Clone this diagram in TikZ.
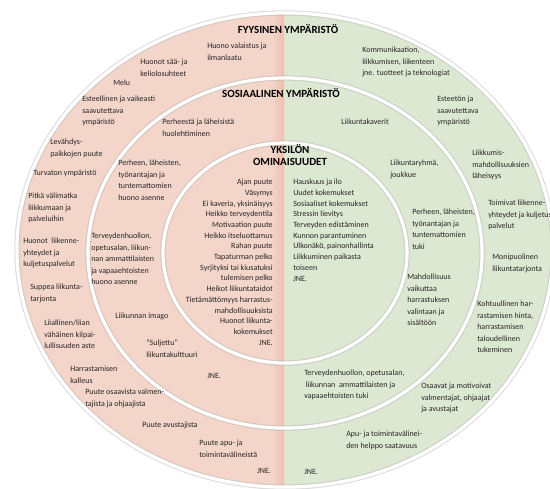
\documentclass[tikz,border=0pt]{standalone}
\usepackage{fontspec}
\setmainfont{Carlito}
\usepackage{xcolor}
\usepackage{tikz}
\usetikzlibrary{positioning}

\definecolor{pinkbg}{RGB}{243,213,201}
\definecolor{pinkdeep}{RGB}{238,190,175}
\definecolor{greenbg}{RGB}{221,232,211}
\definecolor{txtgray}{RGB}{38,38,38}

\begin{document}
\begin{tikzpicture}[
    x=0.025cm, y=-0.025cm,
    ringline/.style={draw=white, line width=2.3pt},
    ringshade/.style={draw=black!30, line width=3.8pt, opacity=0.45},
    txt/.style={font=\fontsize{5.7}{8.1}\selectfont, text=txtgray, align=left, anchor=north west, inner sep=0pt},
    list/.style={font=\fontsize{5.7}{7.6}\selectfont, text=txtgray, inner sep=0pt},
    heading/.style={font=\fontsize{7.8}{9}\selectfont\bfseries, align=center, inner sep=0pt}
]
\useasboundingbox (0,0) rectangle (550,488);
\clip (0,0) rectangle (550,488);

% Background halves
\begin{scope}
    \clip (285,250) ellipse [x radius=6.7cm, y radius=5.925cm];
    \fill[pinkbg] (0,0) rectangle (284,488);
    \fill[greenbg] (284,0) rectangle (550,488);
    \shade[left color=pinkbg, right color=pinkdeep] (272,0) rectangle (284,488);
\end{scope}

% Ring borders
\foreach \rx/\ry/\cy in {6.7/5.925/250, 4.925/4.375/253, 3.05/2.75/253} {
    \draw[ringshade] (285,\cy) ellipse [x radius=\rx cm, y radius=\ry cm];
    \draw[ringline] (285,\cy) ellipse [x radius=\rx cm, y radius=\ry cm];
}

% Headings
\node[heading] (fyysinen) at (288,29) {FYYSINEN YMPÄRISTÖ};
\node[heading] (sosiaalinen) at (281,93) {SOSIAALINEN YMPÄRISTÖ};
\node[heading] (yksilo) at (290,155) {YKSILÖN\\OMINAISUUDET};

% Physical environment, barriers
\node[txt] (valaistus) at (207,43) {Huono valaistus ja\\ilmanlaatu};
\node[txt] (keli) at (140,59) {Huonot sää- ja\\keliolosuhteet};
\node[txt] (melu) at (113,80) {Melu};
\node[txt] (esteellinen) at (82,96) {Esteellinen ja vaikeasti\\saavutettava\\ympäristö};
\node[txt] (levahdys) at (50,139) {Levähdys-\\paikkojen puute};
\node[txt] (turvaton) at (33,170) {Turvaton ympäristö};
\node[txt] (valimatka) at (28,193) {Pitkä välimatka\\liikkumaan ja\\palveluihin};
\node[txt] (liikenneL) at (23,238) {Huonot~~liikenne-\\yhteydet ja\\kuljetuspalvelut};
\node[txt] (suppea) at (30,284) {Suppea liikunta-\\tarjonta};
\node[txt] (kilpailu) at (44,320) {Liiallinen/liian\\vähäinen kilpai-\\lullisuuden aste};
\node[txt] (kalleus) at (70,366) {Harrastamisen\\kalleus};
\node[txt] (valmentajaL) at (85,389) {Puute osaavista valmen-\\tajista ja ohjaajista};
\node[txt] (avustajaL) at (142,422) {Puute avustajista};
\node[txt] (apuL) at (199,440) {Puute apu- ja\\toimintavälineistä};
\node[txt] (jneFL) at (257,468) {JNE.};

% Social environment, barriers
\node[txt] (huolehtiminen) at (162,119) {Perheestä ja läheisistä\\huolehtiminen};
\node[txt] (asenneL) at (118,160) {Perheen, läheisten,\\työnantajan ja\\tuntemattomien\\huono asenne};
\node[txt] (ammattiL) at (91,233) {Terveydenhuollon,\\opetusalan, liikun-\\nan ammattilaisten\\ja vapaaehtoisten\\huono asenne};
\node[txt] (imago) at (115,313) {Liikunnan imago};
\node[txt] (suljettu) at (146,340) {”Suljettu”\\liikuntakulttuuri};
\node[txt] (jneSL) at (207,373) {JNE.};

% Individual, barriers and motives
\node[list, align=right, anchor=north east] (esteet) at (273,179) {Ajan puute\\Väsymys\\Ei kaveria, yksinäisyys\\Heikko terveydentila\\Motivaation puute\\Heikko itseluottamus\\Rahan puute\\Tapaturman pelko\\Syrjityksi tai kiusatuksi\\tulemisen pelko\\Heikot liikuntataidot\\Tietämättömyys harrastus-\\mahdollisuuksista\\Huonot liikunta-\\kokemukset\\JNE.};
\node[list, align=left, anchor=north west] (motiivit) at (293,179) {Hauskuus ja ilo\\Uudet kokemukset\\Sosiaaliset kokemukset\\Stressin lievitys\\Terveyden edistäminen\\Kunnon parantuminen\\Ulkonäkö, painonhallinta\\Liikkuminen paikasta\\toiseen\\JNE.};

% Social environment, supports
\node[txt] (kaverit) at (341,119) {Liikuntakaverit};
\node[txt] (ryhma) at (390,160) {Liikuntaryhmä,\\joukkue};
\node[txt] (tukiR) at (412,209) {Perheen, läheisten,\\työnantajan ja\\tuntemattomien\\tuki};
\node[txt] (vaikuttaa) at (407,274) {Mahdollisuus\\vaikuttaa\\harrastuksen\\valintaan ja\\sisältöön};
\node[txt] (ammattiR) at (304,370) {Terveydenhuollon, opetusalan,\\\hspace{1pt}liikunnan~~ammattilaisten ja\\vapaaehtoisten tuki};

% Physical environment, supports
\node[txt] (teknologia) at (362,47) {Kommunikaation,\\liikkumisen, liikenteen\\jne. tuotteet ja teknologiat};
\node[txt] (esteeton) at (437,96) {Esteetön ja\\saavutettava\\ympäristö};
\node[txt] (laheisyys) at (472,150) {Liikkumis-\\mahdollisuuksien\\läheisyys};
\node[txt] (liikenneR) at (488,200) {Toimivat liikenne-\\yhteydet ja kuljetus-\\palvelut};
\node[txt] (tarjonta) at (492,254) {Monipuolinen\\liikuntatarjonta};
\node[txt] (hinta) at (477,301) {Kohtuullinen har-\\rastamisen hinta,\\harrastamisen\\taloudellinen\\tukeminen};
\node[txt] (valmentajaR) at (421,383) {Osaavat ja motivoivat\\valmentajat, ohjaajat\\ja avustajat};
\node[txt] (apuR) at (346,431) {Apu- ja toimintavälinei-\\den helppo saatavuus};
\node[txt] (jneFR) at (304,469) {JNE.};

\end{tikzpicture}
\end{document}
